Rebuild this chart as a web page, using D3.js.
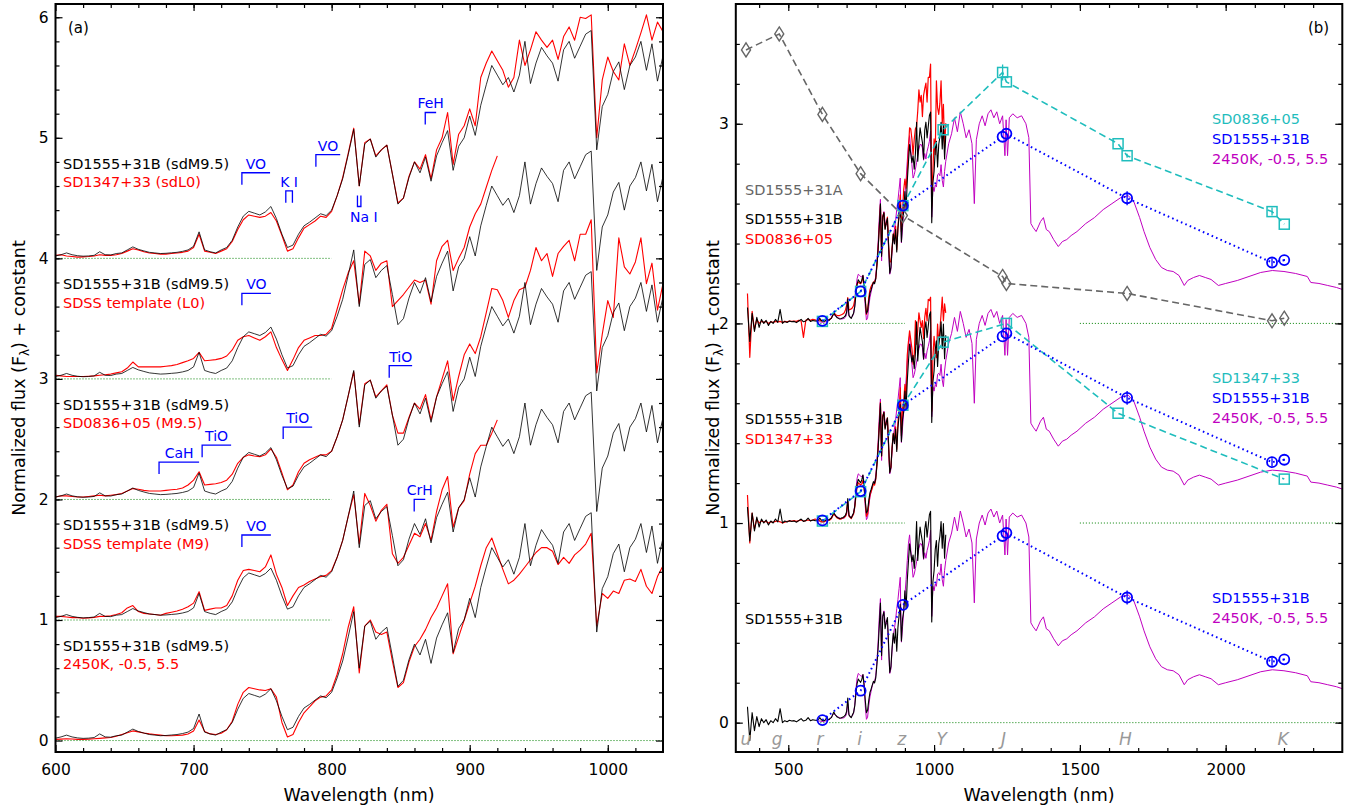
<!DOCTYPE html>
<html>
<head>
<meta charset="utf-8">
<script src="https://cdn.jsdelivr.net/npm/d3@7.9.0/dist/d3.min.js"></script>
<style>
  body { margin: 0; background: #fff; }
  svg { font-family: "DejaVu Sans", sans-serif; }
</style>
</head>
<body>
<svg id="chart" width="1359" height="807"></svg>
<script>
// ---- optical spectra, 600-1040 nm on a 4 nm grid (normalised, no offset) ----
const wl = d3.range(600, 1041, 4);

// SD1555+31B (sdM9.5), the black spectrum
const fluxSD1555B = [
  0.02, 0.03, 0.045, 0.03, 0.022, 0.018, 0.02, 0.025, 0.055, 0.03,
  0.028, 0.04, 0.045, 0.07, 0.095, 0.075, 0.062, 0.05, 0.045, 0.04,
  0.042, 0.046, 0.05, 0.058, 0.07, 0.1, 0.22, 0.07, 0.055, 0.045,
  0.07, 0.09, 0.15, 0.26, 0.35, 0.39, 0.375, 0.36, 0.385, 0.43,
  0.33, 0.2, 0.09, 0.11, 0.2, 0.27, 0.3, 0.335, 0.37, 0.355,
  0.4, 0.52, 0.66, 0.86, 1.07, 0.6, 0.95, 0.99, 0.84, 0.9,
  0.94, 0.7, 0.45, 0.5, 0.67, 0.8, 0.71, 0.84, 0.64, 0.85,
  0.96, 1.06, 0.73, 0.93, 1.0, 1.18, 1.02, 1.27, 1.44, 1.6,
  1.52, 1.44, 1.5, 1.38, 1.52, 1.8, 1.45, 1.62, 1.75, 1.68,
  1.62, 1.47, 1.73, 1.8, 1.66, 1.76, 1.86, 1.89, 0.9, 1.26,
  1.36, 1.55, 1.63, 1.4, 1.6, 1.67, 1.8, 1.56, 1.78, 1.47,
  1.68
];
// model 2450K, [M/H]=-0.5, logg=5.5
const fluxModel = [
  0.01, 0.012, 0.015, 0.013, 0.01, 0.01, 0.012, 0.015, 0.018, 0.022,
  0.025, 0.035, 0.05, 0.065, 0.08, 0.072, 0.062, 0.055, 0.05, 0.045,
  0.04, 0.04, 0.042, 0.045, 0.055, 0.08, 0.17, 0.075, 0.055, 0.05,
  0.06, 0.09, 0.16, 0.3, 0.4, 0.44, 0.43, 0.42, 0.415, 0.43,
  0.36, 0.15, 0.03, 0.05, 0.15, 0.23, 0.28, 0.33, 0.36, 0.37,
  0.42, 0.55, 0.72, 0.94, 1.11, 0.56, 0.95, 1.0, 0.9, 0.88,
  0.9, 0.66, 0.44, 0.48, 0.65, 0.78, 0.84, 0.92, 1.02, 1.1,
  1.2, 1.3, 0.72, 0.86, 1.0, 1.14, 1.28, 1.45, 1.6, 1.68,
  1.55, 1.42, 1.3, 1.33, 1.38, 1.44, 1.5, 1.56, 1.6, 1.6,
  1.57, 1.46, 1.52, 1.47, 1.54, 1.58, 1.63, 1.72, 0.95, 1.22,
  1.18, 1.24, 1.22, 1.33, 1.34, 1.32, 1.42, 1.28, 1.22, 1.36,
  1.45
];
// SDSS template M9 (stops at 920 nm)
const fluxTplM9 = [
  0.03, 0.03, 0.025, 0.02, 0.02, 0.015, 0.018, 0.022, 0.03, 0.03,
  0.035, 0.045, 0.06, 0.1, 0.12, 0.07, 0.055, 0.05, 0.045, 0.04,
  0.055, 0.065, 0.075, 0.09, 0.11, 0.14, 0.235, 0.08, 0.09, 0.1,
  0.1, 0.12, 0.2, 0.33, 0.41, 0.42, 0.41, 0.4, 0.44, 0.54,
  0.38, 0.27, 0.12, 0.2, 0.27, 0.29, 0.32, 0.34, 0.36, 0.37,
  0.41, 0.52, 0.66, 0.86, 1.04, 0.63, 1.05, 0.95, 0.82, 0.91,
  0.96, 0.55, 0.47, 0.52, 0.62, 0.72, 0.69, 0.8, 0.66, 0.9,
  1.08, 1.19, 0.77, 0.93, 0.99, 1.21, 1.38, 1.45, 1.45, 1.55,
  1.66
];
// SD0836+05 (M9.5)
const fluxSD0836 = [
  0.02, 0.03, 0.03, 0.025, 0.02, 0.02, 0.025, 0.03, 0.035, 0.03,
  0.035, 0.04, 0.05, 0.07, 0.09, 0.085, 0.075, 0.07, 0.07, 0.07,
  0.075, 0.08, 0.085, 0.095, 0.12, 0.16, 0.23, 0.12, 0.125, 0.13,
  0.14, 0.16, 0.21, 0.3, 0.35, 0.37, 0.36, 0.355, 0.37, 0.42,
  0.35, 0.22, 0.08, 0.12, 0.23, 0.3, 0.33, 0.35, 0.37, 0.37,
  0.4, 0.52, 0.66, 0.86, 1.06, 0.62, 0.96, 0.99, 0.85, 0.9,
  0.95, 0.7, 0.55, 0.55, 0.68, 0.8, 0.75, 0.87, 0.66, 0.85,
  1.0, 1.15, 0.82, 1.02, 1.2, 1.29, 1.21, 1.35, 1.55, 1.75,
  1.74, 1.65, 1.51, 1.65, 1.74, 1.76, 1.9, 2.09, 1.98, 2.04,
  1.85, 2.04, 2.1, 2.15, 1.98, 2.2, 2.2, 2.32, 1.05, 1.37,
  1.65, 1.51, 2.17, 1.93, 1.87, 1.97, 2.17, 1.79, 1.96, 1.57,
  1.79
];
// SDSS template L0 (stops at 920 nm)
const fluxTplL0 = [
  0.03, 0.025, 0.02, 0.02, 0.02, 0.02, 0.022, 0.025, 0.03, 0.035,
  0.04, 0.05, 0.06, 0.09, 0.14, 0.1, 0.1, 0.1, 0.1, 0.1,
  0.105, 0.11, 0.12, 0.135, 0.15, 0.17, 0.22, 0.15, 0.155, 0.16,
  0.17, 0.19, 0.24, 0.32, 0.35, 0.36, 0.34, 0.32, 0.35, 0.39,
  0.26, 0.16, 0.07, 0.16, 0.26, 0.32, 0.34, 0.36, 0.36, 0.37,
  0.42, 0.58, 0.74, 0.88, 0.98, 0.62, 1.06, 1.02, 0.9, 0.96,
  0.98, 0.6, 0.65, 0.7, 0.76, 0.82, 0.8, 0.82, 0.62, 0.98,
  1.1, 1.15, 0.9, 1.0, 1.09, 1.26, 1.37, 1.45, 1.59, 1.73,
  1.85
];
// SD1347+33 (sdL0)
const fluxSD1347 = [
  0.025, 0.03, 0.02, 0.015, 0.01, 0.012, 0.015, 0.02, 0.03, 0.025,
  0.025, 0.03, 0.04, 0.06, 0.08, 0.07, 0.055, 0.045, 0.04, 0.035,
  0.035, 0.04, 0.045, 0.05, 0.06, 0.09, 0.2, 0.06, 0.05, 0.04,
  0.06, 0.08, 0.14, 0.24, 0.32, 0.36, 0.35, 0.34, 0.35, 0.38,
  0.31, 0.19, 0.06, 0.08, 0.17, 0.25, 0.28, 0.31, 0.35, 0.34,
  0.39, 0.52, 0.67, 0.87, 1.08, 0.6, 0.96, 0.99, 0.85, 0.9,
  0.94, 0.7, 0.46, 0.5, 0.68, 0.8, 0.74, 0.86, 0.66, 0.9,
  1.0, 1.21, 0.78, 1.03, 1.1, 1.24, 1.1, 1.5, 1.62, 1.72,
  1.64, 1.56, 1.42, 1.5, 1.81, 1.6, 1.73, 1.88, 1.81, 1.75,
  1.81, 1.65, 1.84, 1.92, 1.81, 2.0, 1.99, 2.02, 1.0, 1.48,
  1.67, 1.55, 1.48, 1.78, 1.6, 1.73, 1.87, 2.02, 1.81, 1.96,
  1.88
];

// ---- panel (b) extras: blue end 360-592 nm (already in panel-b units) ----
const blueW = d3.range(360, 600, 8);
const blueSD1555B = [0.08, -0.09, 0.05, -0.04, 0.03, -0.02, 0.02, 0.0, 0.015, -0.01,
  0.01, 0.0, 0.02, 0.005, 0.07, 0.0, 0.01, 0.005, 0.012, 0.008,
  0.01, 0.004, 0.012, 0.02, 0.008, 0.012, 0.025, 0.01, 0.015, 0.012];
const blueSD0836 = [0.15, -0.17, 0.06, -0.03, 0.02, 0.0, 0.01, 0.005, 0.01, 0.0,
  0.008, 0.005, 0.01, 0.008, 0.01, 0.005, 0.01, 0.008, 0.012, 0.01,
  0.012, 0.01, 0.015, 0.012, -0.07, 0.015, 0.02, 0.015, 0.02, 0.018];
const blueSD1347 = [0.14, -0.1, 0.05, -0.03, 0.02, 0.0, 0.01, 0.005, 0.008, 0.0,
  0.006, 0.004, 0.008, 0.01, 0.006, 0.0, 0.004, 0.008, 0.01, 0.01,
  0.012, 0.008, 0.012, 0.015, 0.01, 0.012, 0.015, 0.012, 0.015, 0.02];

// model 2450K in the near-infrared (panel-b units)
const nirW = [1050, 1060, 1070, 1080, 1090, 1100, 1110, 1120, 1130, 1138,
  1145, 1155, 1165, 1175, 1185, 1195, 1205, 1215, 1225, 1235,
  1243, 1247, 1252, 1258, 1270, 1285, 1300, 1315, 1325, 1332,
  1340, 1350, 1365, 1375, 1385, 1395, 1410, 1426, 1440, 1455,
  1470, 1490, 1520, 1550, 1580, 1610, 1640, 1666, 1685, 1705,
  1720, 1740, 1760, 1780, 1800, 1820, 1840, 1858, 1870, 1890,
  1910, 1930, 1950, 1975, 2000, 2040, 2080, 2120, 2160, 2200,
  2240, 2280, 2292, 2320, 2350, 2380, 2400];
const nirModel = [0.9, 0.95, 1.03, 0.96, 1.06, 1.0, 0.93, 0.97, 0.9, 0.6,
  0.92, 1.0, 1.04, 0.99, 1.05, 1.07, 1.03, 1.06, 1.0, 1.04,
  0.84, 1.02, 0.84, 1.03, 1.05, 1.03, 1.04, 1.0, 0.93, 0.5,
  0.48, 0.46, 0.51, 0.53, 0.47, 0.46, 0.42, 0.385, 0.41, 0.42,
  0.44, 0.46, 0.5, 0.53, 0.57, 0.6, 0.63, 0.64, 0.61, 0.53,
  0.46, 0.38, 0.32, 0.28, 0.265, 0.26, 0.24, 0.19, 0.215, 0.23,
  0.24, 0.23, 0.22, 0.19, 0.2, 0.215, 0.235, 0.255, 0.265, 0.26,
  0.25, 0.235, 0.205, 0.2, 0.19, 0.18, 0.17];

// ---- photometry (panel b, relative to each offset) ----
const photBW = [617, 748, 893, 1235, 1248, 1662, 2159, 2201];
const photBF = [0.013, 0.16, 0.59, 0.935, 0.95, 0.627, 0.305, 0.317];
const photBErr = [0, 0, 0, 0, 0, 0.035, 0.02, 0.005];
const phot0836W = [617, 748, 893, 1031, 1235, 1248, 1631, 1662, 2159, 2201];
const phot0836F = [0.01, 0.16, 0.59, 0.97, 1.257, 1.21, 0.9, 0.84, 0.56, 0.497];
const phot0836Err = [0, 0, 0, 0, 0.04, 0, 0, 0.01, 0.02, 0];
const phot1347W = [617, 748, 893, 1031, 1248, 1631, 2201];
const phot1347F = [0.01, 0.157, 0.59, 0.906, 1.0, 0.55, 0.22];
const photAW = [355, 469, 617, 748, 893, 1235, 1248, 1662, 2159, 2201];
const photAF = [1.37, 1.45, 1.047, 0.75, 0.54, 0.235, 0.2, 0.15, 0.013, 0.026];

const bandNames = ['u', 'g', 'r', 'i', 'z', 'Y', 'J', 'H', 'K'];
const bandWave = [355, 462, 609, 745, 889, 1026, 1238, 1656, 2197];

// panel (a) labels and feature markers
const rowNames = ['2450K, -0.5, 5.5', 'SDSS template (M9)', 'SD0836+05 (M9.5)', 'SDSS template (L0)', 'SD1347+33 (sdL0)'];
const featLabels = ['VO', 'K I', 'VO', 'Na I', 'FeH', 'VO', 'CaH', 'TiO', 'TiO', 'TiO', 'VO', 'CrH'];
const featStart = [735, 766.8, 788.6, 818.7, 867.8, 735, 675, 706.2, 764.9, 841.7, 735, 859.8];
const featEnd = [755.4, 771.6, 806.2, 821.2, 875.7, 756, 704, 727.2, 785.9, 858.3, 756, 867.8];
const featLevel = [4.71, 4.56, 4.86, 4.43, 5.21, 3.71, 2.31, 2.45, 2.6, 3.11, 1.705, 2.0];
const featKind = ['left', 'both', 'left', 'cup', 'left', 'left', 'left', 'left', 'left', 'left', 'left', 'left'];

const scaleB = 0.56; // optical spectra are rescaled in panel (b)

const RED = '#ff0000', BLUE = '#0000ff', CYAN = '#1fbdbd', MAG = '#c000c0', GRAY = '#666666', GREEN = '#008000';

const svg = d3.select('#chart');
const xA = d3.scaleLinear().domain([600, 1040]).range([55.5, 663]);
const yA = d3.scaleLinear().domain([-0.095, 6.11]).range([752, 4]);
const xB = d3.scaleLinear().domain([320, 2400]).range([735.8, 1342.3]);
const yB = d3.scaleLinear().domain([-0.147, 3.6]).range([752, 4]);

const pairs = (w, f, k = 1) => f.map((v, i) => [w[i], v * k]);

function clip(id, x, y) {
  svg.append('clipPath').attr('id', id).append('rect')
    .attr('x', x.range()[0]).attr('y', y.range()[1])
    .attr('width', x.range()[1] - x.range()[0]).attr('height', y.range()[0] - y.range()[1]);
}
clip('clipA', xA, yA);
clip('clipB', xB, yB);

function spectrum(g, x, y, pts, off, color, width) {
  const line = d3.line().x(d => x(d[0])).y(d => y(d[1] + off));
  g.append('path').attr('d', line(pts)).attr('fill', 'none')
    .attr('stroke', color).attr('stroke-width', width).attr('stroke-linejoin', 'round');
}
function dotted(g, x, y, w0, w1, off) {
  g.append('line').attr('x1', x(w0)).attr('x2', x(w1)).attr('y1', y(off)).attr('y2', y(off))
    .attr('stroke', GREEN).attr('stroke-width', 1).attr('stroke-dasharray', '1,2');
}

// ---------------- panel (a) ----------------
const gA = svg.append('g').attr('clip-path', 'url(#clipA)');
const redA = [fluxModel, fluxTplM9, fluxSD0836, fluxTplL0, fluxSD1347];
redA.forEach((f, off) => {
  dotted(gA, xA, yA, 600, off === 0 ? 1040 : 800, off);
  spectrum(gA, xA, yA, pairs(wl, f), off, RED, 1.1);
  spectrum(gA, xA, yA, pairs(wl, fluxSD1555B), off, '#000', 0.8);
});

const tA = svg.append('g').attr('font-size', 14.5);
rowNames.forEach((name, off) => {
  tA.append('text').attr('x', 63).attr('y', yA(off + 0.743)).text('SD1555+31B (sdM9.5)');
  tA.append('text').attr('x', 63).attr('y', yA(off + 0.59)).attr('fill', RED).text(name);
});
tA.append('text').attr('x', 68).attr('y', 33).attr('font-size', 15).text('(a)');

const fA = svg.append('g').attr('stroke', BLUE).attr('stroke-width', 1.3).attr('fill', 'none');
featLabels.forEach((lab, i) => {
  const x0 = xA(featStart[i]), x1 = xA(featEnd[i]), yy = yA(featLevel[i]);
  let d;
  if (featKind[i] === 'left') d = `M${x0},${yy + 12}V${yy}H${x1}`;
  else if (featKind[i] === 'both') d = `M${x0},${yy + 12}V${yy}H${x1}V${yy + 12}`;
  else d = `M${x0},${yy - 11}V${yy}H${x1}V${yy - 11}`;
  fA.append('path').attr('d', d);
  svg.append('text').attr('x', featKind[i] === 'cup' ? x1 + 3 : (x0 + x1) / 2)
    .attr('y', featKind[i] === 'cup' ? yy + 15 : yy - 4)
    .attr('text-anchor', 'middle').attr('fill', BLUE).attr('font-size', 14).text(lab);
});

// ---------------- panel (b) ----------------
const gB = svg.append('g').attr('clip-path', 'url(#clipB)');
dotted(gB, xB, yB, 610, 2400, 0);
[1, 2].forEach(off => { dotted(gB, xB, yB, 610, 900, off); dotted(gB, xB, yB, 1500, 2400, off); });

const modelB = pairs(wl, fluxModel, scaleB).concat(pairs(nirW, nirModel));
const blackB = pairs(blueW, blueSD1555B).concat(pairs(wl, fluxSD1555B, scaleB));
const red0836B = pairs(blueW, blueSD0836).concat(pairs(wl, fluxSD0836, scaleB));
const red1347B = pairs(blueW, blueSD1347).concat(pairs(wl, fluxSD1347, scaleB));
[0, 1, 2].forEach(off => spectrum(gB, xB, yB, modelB, off, MAG, 1));
spectrum(gB, xB, yB, red0836B, 2, RED, 1.2);
spectrum(gB, xB, yB, red1347B, 1, RED, 1.2);
[0, 1, 2].forEach(off => spectrum(gB, xB, yB, blackB, off, '#000', 1.1));

function photLine(w, f, off, color, dash, width) {
  const line = d3.line().x(d => xB(d[0])).y(d => yB(d[1] + off));
  gB.append('path').attr('d', line(pairs(w, f))).attr('fill', 'none')
    .attr('stroke', color).attr('stroke-width', width).attr('stroke-dasharray', dash);
}
function errBars(w, f, e, off, color) {
  w.forEach((v, i) => {
    if (!e[i]) return;
    gB.append('line').attr('x1', xB(v)).attr('x2', xB(v))
      .attr('y1', yB(f[i] + e[i] + off)).attr('y2', yB(f[i] - e[i] + off))
      .attr('stroke', color).attr('stroke-width', 1.3);
  });
}
photLine(photAW, photAF, 2, GRAY, '7,4', 1.6);
photLine(phot0836W, phot0836F, 2, CYAN, '7,4', 1.6);
photLine(phot1347W, phot1347F, 1, CYAN, '7,4', 1.6);
[0, 1, 2].forEach(off => photLine(photBW, photBF, off, BLUE, '1.6,3.2', 2));

// markers
photAW.forEach((w, i) => {
  const cx = xB(w), cy = yB(photAF[i] + 2);
  gB.append('path').attr('d', `M${cx},${cy - 7}L${cx + 4.5},${cy}L${cx},${cy + 7}L${cx - 4.5},${cy}Z`)
    .attr('fill', 'none').attr('stroke', GRAY).attr('stroke-width', 1.4);
});
[[phot0836W, phot0836F, 2], [phot1347W, phot1347F, 1]].forEach(([w, f, off]) => {
  w.forEach((v, i) => {
    gB.append('rect').attr('x', xB(v) - 5).attr('y', yB(f[i] + off) - 5).attr('width', 10).attr('height', 10)
      .attr('fill', 'none').attr('stroke', CYAN).attr('stroke-width', 1.5);
  });
});
errBars(phot0836W, phot0836F, phot0836Err, 2, CYAN);
[0, 1, 2].forEach(off => {
  photBW.forEach((w, i) => {
    gB.append('circle').attr('cx', xB(w)).attr('cy', yB(photBF[i] + off)).attr('r', 5)
      .attr('fill', 'none').attr('stroke', BLUE).attr('stroke-width', 1.8);
  });
  errBars(photBW, photBF, photBErr, off, BLUE);
});

// band names along the bottom
const tB = svg.append('g').attr('font-size', 14.5);
bandNames.forEach((b, i) => {
  tB.append('text').attr('x', xB(bandWave[i])).attr('y', 745).attr('text-anchor', 'middle')
    .attr('font-style', 'italic').attr('font-size', 17).attr('fill', '#999').text(b);
});

// labels in panel (b)
const leftTextB = [['SD1555+31A', GRAY, 2.644], ['SD1555+31B', '#000', 2.498], ['SD0836+05', RED, 2.398],
  ['SD1555+31B', '#000', 1.497], ['SD1347+33', RED, 1.396], ['SD1555+31B', '#000', 0.494]];
leftTextB.forEach(([t, c, v]) => tB.append('text').attr('x', 745).attr('y', yB(v)).attr('fill', c).text(t));
const rightTextB = [['SD0836+05', CYAN, 3.0], ['SD1555+31B', BLUE, 2.9], ['2450K, -0.5, 5.5', MAG, 2.8],
  ['SD1347+33', CYAN, 1.702], ['SD1555+31B', BLUE, 1.602], ['2450K, -0.5, 5.5', MAG, 1.5],
  ['SD1555+31B', BLUE, 0.6], ['2450K, -0.5, 5.5', MAG, 0.5]];
rightTextB.forEach(([t, c, v]) => tB.append('text').attr('x', 1212).attr('y', yB(v)).attr('fill', c).text(t));
tB.append('text').attr('x', 1308).attr('y', 33).attr('font-size', 15).text('(b)');

// ---------------- axes / frames ----------------
function frame(x, y, xMajor, xMinor, yMajor, yMinor) {
  const [l, r] = x.range(), [b, t] = y.range();
  const put = (axis, tx, ty, labels) => {
    const g = svg.append('g').attr('transform', `translate(${tx},${ty})`).call(axis.tickFormat(d3.format('d')));
    g.select('.domain').remove();
    g.selectAll('line').attr('stroke-width', 1.2);
    g.attr('font-size', 15.5).attr('font-family', null);
    if (!labels) g.selectAll('text').remove();
  };
  put(d3.axisBottom(x).tickValues(xMinor).tickSize(-4), 0, b, false);
  put(d3.axisBottom(x).tickValues(xMajor).tickSize(-7).tickPadding(12), 0, b, true);
  put(d3.axisTop(x).tickValues(xMinor).tickSize(-4), 0, t, false);
  put(d3.axisTop(x).tickValues(xMajor).tickSize(-7), 0, t, false);
  put(d3.axisLeft(y).tickValues(yMinor).tickSize(-4), l, 0, false);
  put(d3.axisLeft(y).tickValues(yMajor).tickSize(-7).tickPadding(7), l, 0, true);
  put(d3.axisRight(y).tickValues(yMinor).tickSize(-4), r, 0, false);
  put(d3.axisRight(y).tickValues(yMajor).tickSize(-7), r, 0, false);
  svg.append('rect').attr('x', l).attr('y', t).attr('width', r - l).attr('height', b - t)
    .attr('fill', 'none').attr('stroke', '#000').attr('stroke-width', 2);
}
frame(xA, yA, d3.range(600, 1001, 100), d3.range(620, 1040, 20), d3.range(0, 7), d3.range(1, 31).map(i => i / 5));
frame(xB, yB, [500, 1000, 1500, 2000], d3.range(400, 2400, 100), [0, 1, 2, 3], d3.range(0, 18).map(i => i / 5));

function titles(cx, ty) {
  svg.append('text').attr('x', cx).attr('y', 801).attr('text-anchor', 'middle').attr('font-size', 17.5).text('Wavelength (nm)');
  const t = svg.append('text').attr('transform', `translate(${ty},378) rotate(-90)`)
    .attr('text-anchor', 'middle').attr('font-size', 17.5);
  t.append('tspan').text('Normalized flux  (F');
  t.append('tspan').attr('font-size', 12).attr('dy', 4).text('λ');
  t.append('tspan').attr('dy', -4).text(') + constant');
}
titles(359, 25);
titles(1039, 719);
</script>
</body>
</html>
